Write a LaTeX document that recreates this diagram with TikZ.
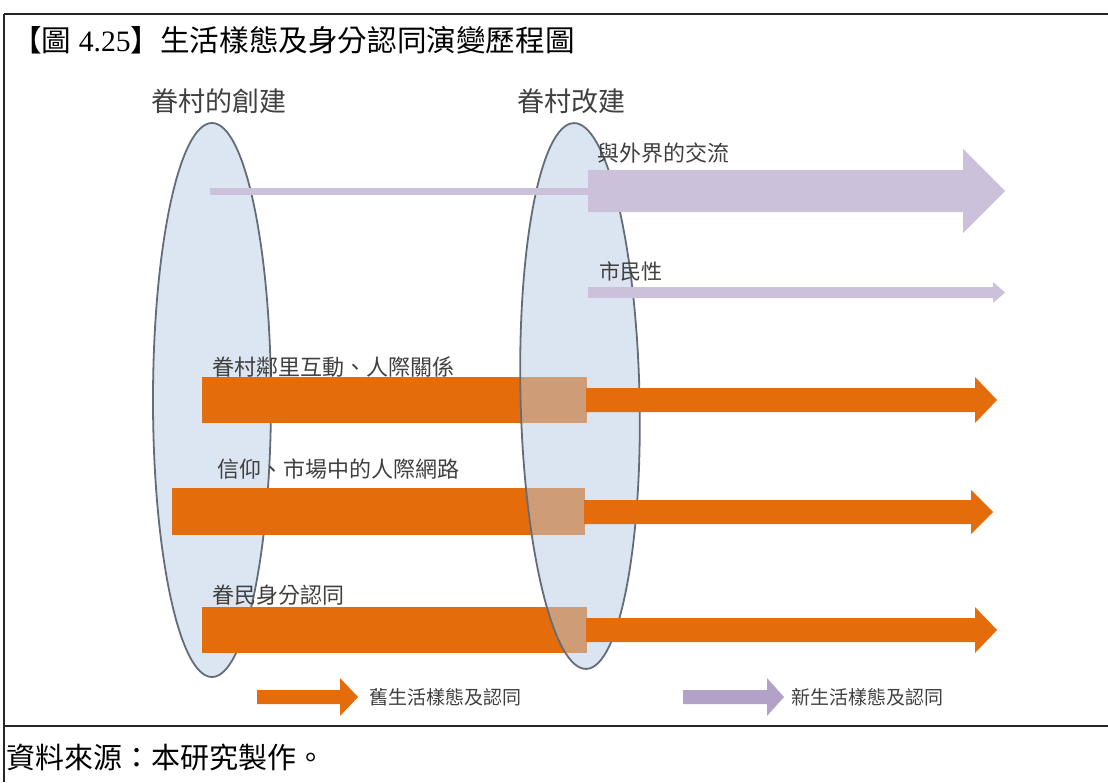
\documentclass[tikz,border=0pt]{standalone}
\usepackage{fontspec}
\setmainfont{Noto Sans CJK TC}
\newfontfamily\latinserif{Liberation Serif}
\usetikzlibrary{shapes.geometric}
\definecolor{orangec}{RGB}{228,108,10}
\definecolor{purplec}{RGB}{204,193,218}
\definecolor{purpleleg}{RGB}{179,162,199}
\definecolor{ellfill}{RGB}{220,230,242}
\definecolor{ellfilltr}{RGB}{185,205,229}
\definecolor{ellline}{RGB}{100,108,120}
\definecolor{labelc}{RGB}{64,64,64}
\tikzset{
  frameline/.style={line width=2.2pt, draw=black!85},
  ellbox/.style={ellipse, draw=ellline, line width=1.8pt, inner sep=0pt},
  lbl/.style={inner sep=0pt, anchor=west, text=labelc},
  head/.style={inner sep=0pt, text=labelc, font=\fontsize{27}{27}\selectfont},
}
\begin{document}
\begin{tikzpicture}[x=1pt,y=-1pt]
\useasboundingbox (0,0) rectangle (1108,782);
\fill[white] (0,0) rectangle (1108,782);
% frame
\draw[frameline] (4,14) -- (1108,14);
\draw[frameline] (4,14) -- (4,782);
\draw[frameline] (4,726) -- (1108,726);
% left ellipse
\node[ellbox, fill=ellfill, minimum width=118pt, minimum height=554pt] (e1) at (212,400) {};
% orange bars
\fill[orangec] (202,377) rectangle (587,423);
\fill[orangec] (172,488) rectangle (585,535);
\fill[orangec] (202,607) rectangle (587,653);
% right ellipse (translucent)
\node[ellbox, fill=ellfilltr, fill opacity=0.5, draw opacity=1, minimum width=119pt, minimum height=546pt, rotate=1.3] (e2) at (580,396) {};
% purple thin line and arrows
\fill[purplec] (210,188) rectangle (589,195);
\fill[purplec] (588,170) -- (963,170) -- (963,149) -- (1005,191) -- (963,233) -- (963,212) -- (588,212) -- cycle;
\fill[purplec] (588,287) -- (993,287) -- (993,282) -- (1005,292.5) -- (993,303) -- (993,298) -- (588,298) -- cycle;
% orange shafts
\fill[orangec] (586,388) -- (975,388) -- (975,377) -- (997,400) -- (975,423) -- (975,412) -- (586,412) -- cycle;
\fill[orangec] (584,500) -- (971,500) -- (971,490) -- (993,512) -- (971,534) -- (971,524) -- (584,524) -- cycle;
\fill[orangec] (586,618) -- (975,618) -- (975,607) -- (997,630) -- (975,653) -- (975,642) -- (586,642) -- cycle;
% legend arrows
\fill[orangec] (257,690) -- (340,690) -- (340,678) -- (358,697) -- (340,716) -- (340,704) -- (257,704) -- cycle;
\fill[purpleleg] (683,690) -- (767,690) -- (767,678) -- (784,697) -- (767,716) -- (767,704) -- (683,704) -- cycle;
% texts
\node[inner sep=0pt, anchor=west, font=\fontsize{29.6}{29.6}\selectfont] (title) at (12,40) {【圖{\latinserif\ 4.25}】生活樣態及身分認同演變歷程圖};
\node[head] (h1) at (219,101) {眷村的創建};
\node[head, anchor=west] (h2) at (517,101) {眷村改建};
\node[lbl, font=\fontsize{22}{22}\selectfont] (t1) at (597,153) {與外界的交流};
\node[lbl, font=\fontsize{21}{21}\selectfont] (t2) at (599,271) {市民性};
\node[lbl, font=\fontsize{22}{22}\selectfont] (t3) at (212,367) {眷村鄰里互動、人際關係};
\node[lbl, font=\fontsize{22}{22}\selectfont] (t4) at (217,469) {信仰、市場中的人際網路};
\node[lbl, font=\fontsize{22}{22}\selectfont] (t5) at (212,595) {眷民身分認同};
\node[lbl, font=\fontsize{19}{19}\selectfont] (l1) at (369,697) {舊生活樣態及認同};
\node[lbl, font=\fontsize{19}{19}\selectfont] (l2) at (791,697) {新生活樣態及認同};
\node[inner sep=0pt, anchor=west, font=\fontsize{29}{29}\selectfont] (src) at (6,757) {資料來源：本研究製作。};
\end{tikzpicture}
\end{document}
